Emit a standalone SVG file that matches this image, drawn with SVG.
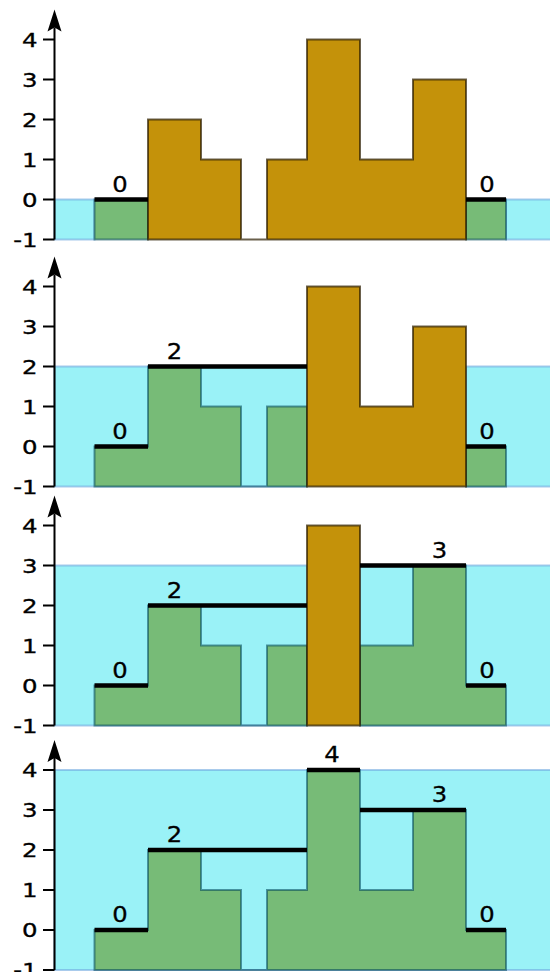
<svg xmlns="http://www.w3.org/2000/svg" width="550" height="972" viewBox="0 0 550 972">
<style>
.water{fill:#9af2f7;stroke:#6fa8e0;stroke-opacity:0.6;stroke-width:2}
.ground{fill:#77bb77;stroke:#00465a;stroke-opacity:0.55;stroke-width:2;stroke-linejoin:miter}
.rock{fill:#c4920a;stroke:#2b1d00;stroke-opacity:0.7;stroke-width:2;stroke-linejoin:miter}
.lvl{stroke:#000;stroke-width:4.6;fill:none}
.axis{stroke:#000;stroke-width:2;fill:none}
.tl{font-family:"DejaVu Sans",sans-serif;font-size:20px;fill:#000;stroke:#000;stroke-width:0.35;text-anchor:end}
.ll{font-family:"DejaVu Sans",sans-serif;font-size:21.5px;fill:#000;stroke:#000;stroke-width:0.3;text-anchor:middle}
</style>
<defs>
<g id="axisg">
<path class="axis" d="M54.5,40 V-172 M43,40 H54.5 M43,0 H54.5 M43,-40 H54.5 M43,-80 H54.5 M43,-120 H54.5 M43,-160 H54.5"/>
<path d="M54.5,-190 L61.5,-168 L54.5,-172 L47.5,-168 Z" fill="#000"/>
<text class="tl" transform="translate(37.5,-152.7) scale(1.22,1)">4</text>
<text class="tl" transform="translate(37.5,-112.7) scale(1.22,1)">3</text>
<text class="tl" transform="translate(37.5,-72.7) scale(1.22,1)">2</text>
<text class="tl" transform="translate(37.5,-32.7) scale(1.22,1)">1</text>
<text class="tl" transform="translate(37.5,7.3) scale(1.22,1)">0</text>
<text class="tl" transform="translate(37.5,47.3) scale(1.22,1)">-1</text>
</g>
</defs>

<g id="panel1" transform="translate(0,199.5)">
<rect class="water" x="54.5" y="0" width="40" height="40"/>
<rect class="water" x="506" y="0" width="50" height="40"/>
<rect class="ground" x="94.5" y="0" width="53.5" height="40"/>
<rect class="ground" x="466" y="0" width="40" height="40"/>
<path class="rock" d="M148,40 V-80 H201 V-40 H241 V40 H267 V-40 H307 V-160 H360 V-40 H413 V-120 H466 V40 Z"/>
<path class="lvl" d="M94.5,0 H148 M466,0 H506"/>
<text class="ll" transform="translate(120,-8) scale(1.13,1)">0</text>
<text class="ll" transform="translate(487,-8) scale(1.13,1)">0</text>
<use href="#axisg"/>
</g>

<g id="panel2" transform="translate(0,446.5)">
<rect class="water" x="54.5" y="-80" width="252.5" height="120"/>
<rect class="water" x="466" y="-80" width="90" height="120"/>
<path class="ground" d="M94.5,40 V0 H148 V-80 H201 V-40 H241 V40 H267 V-40 H307 V40 Z"/>
<rect class="ground" x="466" y="0" width="40" height="40"/>
<path class="rock" d="M307,40 V-160 H360 V-40 H413 V-120 H466 V40 Z"/>
<path class="lvl" d="M94.5,0 H148 M148,-80 H307 M466,0 H506"/>
<text class="ll" transform="translate(120,-8) scale(1.13,1)">0</text>
<text class="ll" transform="translate(174.5,-88) scale(1.13,1)">2</text>
<text class="ll" transform="translate(487,-8) scale(1.13,1)">0</text>
<use href="#axisg"/>
</g>

<g id="panel3" transform="translate(0,685.5)">
<rect class="water" x="54.5" y="-120" width="252.5" height="160"/>
<rect class="water" x="360" y="-120" width="196" height="160"/>
<path class="ground" d="M94.5,40 V0 H148 V-80 H201 V-40 H241 V40 H267 V-40 H307 V40 Z"/>
<path class="ground" d="M360,40 V-40 H413 V-120 H466 V0 H506 V40 Z"/>
<rect class="rock" x="307" y="-160" width="53" height="200"/>
<path class="lvl" d="M94.5,0 H148 M148,-80 H307 M360,-120 H466 M466,0 H506"/>
<text class="ll" transform="translate(120,-8) scale(1.13,1)">0</text>
<text class="ll" transform="translate(174.5,-88) scale(1.13,1)">2</text>
<text class="ll" transform="translate(439.5,-128) scale(1.13,1)">3</text>
<text class="ll" transform="translate(487,-8) scale(1.13,1)">0</text>
<use href="#axisg"/>
</g>

<g id="panel4" transform="translate(0,930)">
<rect class="water" x="54.5" y="-160" width="501.5" height="200"/>
<path class="ground" d="M94.5,40 V0 H148 V-80 H201 V-40 H241 V40 H267 V-40 H307 V-160 H360 V-40 H413 V-120 H466 V0 H506 V40 Z"/>
<path class="lvl" d="M94.5,0 H148 M148,-80 H307 M307,-160 H360 M360,-120 H466 M466,0 H506"/>
<text class="ll" transform="translate(120,-8) scale(1.13,1)">0</text>
<text class="ll" transform="translate(174.5,-88) scale(1.13,1)">2</text>
<text class="ll" transform="translate(332,-168) scale(1.13,1)">4</text>
<text class="ll" transform="translate(439.5,-128) scale(1.13,1)">3</text>
<text class="ll" transform="translate(487,-8) scale(1.13,1)">0</text>
<use href="#axisg"/>
</g>
</svg>
